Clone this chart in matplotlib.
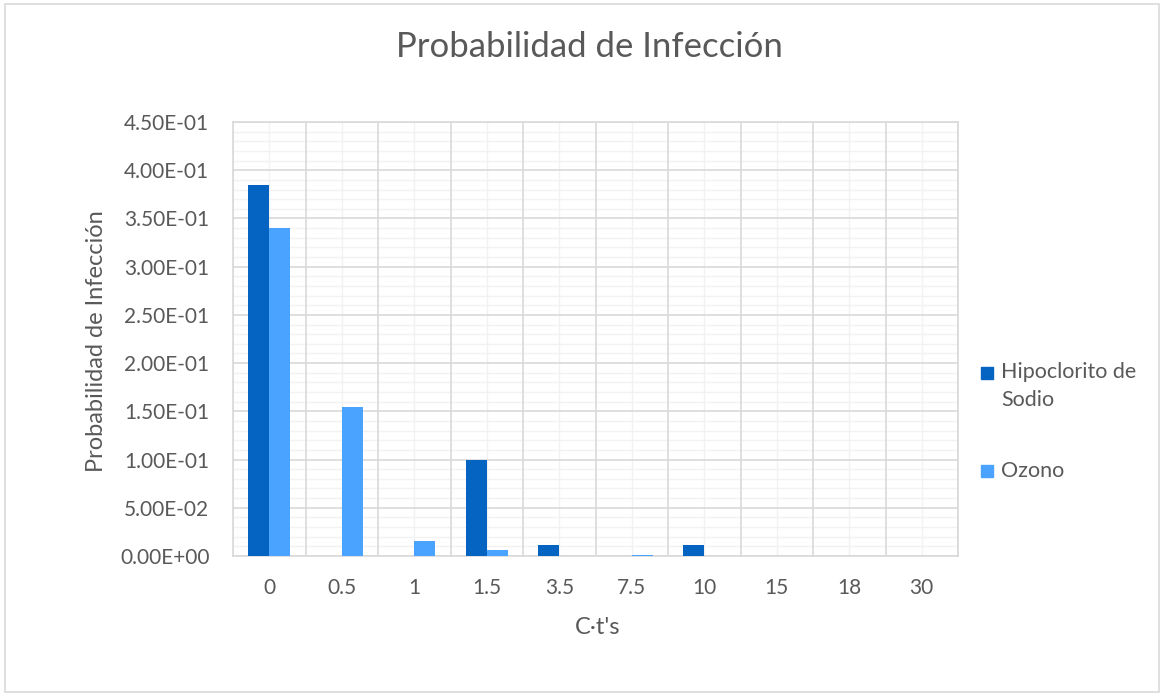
import matplotlib
matplotlib.use("Agg")
import matplotlib.pyplot as plt
import numpy as np
from matplotlib.patches import Rectangle
from matplotlib.ticker import MultipleLocator, FixedLocator, FuncFormatter

categories = ["0", "0.5", "1", "1.5", "3.5", "7.5", "10", "15", "18", "30"]
hipoclorito = [0.385, 0.0, 0.0, 0.100, 0.0113, 0.0, 0.0117, 0.0004, 0.0, 0.0003]
ozono = [0.340, 0.155, 0.0158, 0.0058, 0.0, 0.0015, 0.0, 0.0, 0.0004, 0.0]
series_names = ["Hipoclorito de\nSodio", "Ozono"]
colors = ["#0563C1", "#4AA3FF"]
text_color = "#595959"
font = ["Lato", "DejaVu Sans"]

W, H = 1164, 696
fig = plt.figure(figsize=(W/100, H/100), dpi=100)
fig.patches.append(Rectangle((5/W, 4/H), 1154/W, 688/H, transform=fig.transFigure,
                             fill=False, edgecolor="#D9D9D9", linewidth=1.2))

ax = fig.add_axes([233/W, 1 - 556/H, (958-233)/W, (556-122)/H])
x = np.arange(len(categories))
w = 0.29
ax.bar(x - w/2, hipoclorito, w, color=colors[0], zorder=3)
ax.bar(x + w/2, ozono, w, color=colors[1], zorder=3)

ax.set_xlim(-0.5, len(categories) - 0.5)
ax.set_ylim(0, 0.45)
ax.yaxis.set_major_locator(MultipleLocator(0.05))
ax.yaxis.set_minor_locator(MultipleLocator(0.01))
ax.yaxis.set_major_formatter(FuncFormatter(lambda v, p: f"{v:.2E}"))
ax.xaxis.set_major_locator(FixedLocator(x))
ax.set_xticklabels(categories)

ax.grid(False)
for yv in np.arange(0, 0.4501, 0.01):
    major = abs(round(yv / 0.05) * 0.05 - yv) < 1e-9
    ax.axhline(yv, color="#D9D9D9" if major else "#F2F2F2", lw=1.2 if major else 1.0,
               zorder=1 if major else 0.5)
for xv in np.arange(-0.5, len(categories), 1.0):
    ax.axvline(xv, color="#D9D9D9", lw=1.2, zorder=1)
for xv in x:
    ax.axvline(xv, color="#F2F2F2", lw=1.0, zorder=0.5)

for s in ax.spines.values():
    s.set_color("#D9D9D9")
    s.set_linewidth(1.2)
ax.tick_params(which="both", length=0, colors=text_color, labelsize=15)
ax.tick_params(axis="x", pad=16)
ax.tick_params(axis="y", pad=17)
for lab in ax.get_xticklabels() + ax.get_yticklabels():
    lab.set_family(font)

ax.set_xlabel("C·t's", fontsize=17, color=text_color, family=font)
ax.xaxis.set_label_coords(598/W, 1 - 628/H, transform=fig.transFigure)
ax.xaxis.label.set_va("center")
ax.set_ylabel("Probabilidad de Infección", fontsize=17, color=text_color, family=font)
ax.yaxis.set_label_coords(97/W, 1 - 341/H, transform=fig.transFigure)
ax.yaxis.label.set_va("center")
fig.text(589/W, 1 - 47/H, "Probabilidad de Infección", ha="center", va="center",
         fontsize=25, color=text_color, family=font)

for (ysq, ytxt), name, c in zip([(373, 386), (471, 471)], series_names, colors):
    fig.patches.append(Rectangle((981/W, 1 - (ysq + 6)/H), 12/W, 12/H,
                                 transform=fig.transFigure, color=c))
    fig.text(1001/W, 1 - ytxt/H, name, ha="left", va="center", fontsize=15.5,
             color=text_color, family=font, linespacing=1.45)

fig.savefig("out.png", dpi=100, facecolor="white")
